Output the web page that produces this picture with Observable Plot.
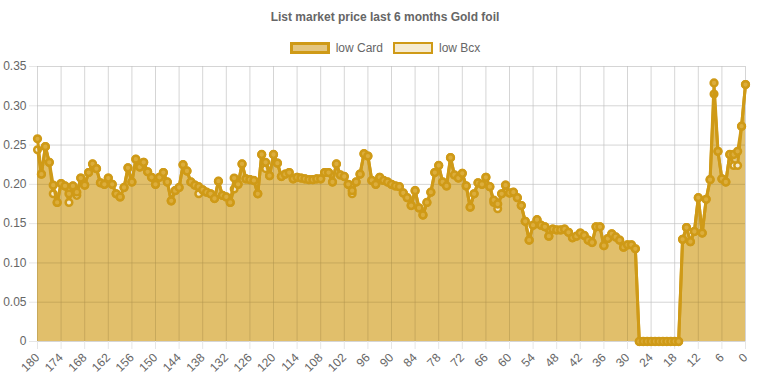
<!DOCTYPE html>
<html>
<head>
<meta charset="utf-8">
<script src="https://cdn.jsdelivr.net/npm/d3@7"></script>
<script src="https://cdn.jsdelivr.net/npm/@observablehq/plot@0.6"></script>
<style>
  html, body { margin: 0; padding: 0; background: #fff; }
  #wrap { width: 761px; height: 380px; position: relative; font-family: "Helvetica Neue", Helvetica, Arial, "Liberation Sans", sans-serif; color: #666; }
  #head { position: relative; width: 761px; height: 56px; }
  #title { position: absolute; top: 10px; left: 0; width: 770px; text-align: center; font-weight: bold; font-size: 12px; line-height: 14px; color: #666; }
  #legend { position: absolute; top: 42px; left: 0; width: 770px; display: flex; justify-content: center; align-items: center; font-size: 12px; line-height: 12px; }
  .item { display: flex; align-items: center; }
  .box { width: 40px; height: 12px; box-sizing: border-box; margin-right: 6px; }
  .item + .item { margin-left: 10px; }
</style>
</head>
<body>
<div id="wrap">
  <div id="head">
    <div id="title"></div>
    <div id="legend"></div>
  </div>
  <div id="chart"></div>
</div>
<script>
const title = "List market price last 6 months Gold foil";
const seriesNames = ["low Card", "low Bcx"];
const xTicks = [180,174,168,162,156,150,144,138,132,126,120,114,108,102,96,90,84,78,72,66,60,54,48,42,36,30,24,18,12,6,0];
const yTicks = [0,0.05,0.10,0.15,0.20,0.25,0.30,0.35];

// days before today, 180 -> 0
const days = d3.range(180, -1, -1);

const lowCard = [
 0.258,0.213,0.248,0.228,0.199,0.177,0.201,0.198,0.188,0.198,
 0.190,0.208,0.199,0.215,0.226,0.220,0.202,0.200,0.208,0.200,
 0.188,0.184,0.196,0.221,0.203,0.232,0.222,0.228,0.216,0.209,
 0.200,0.209,0.215,0.203,0.179,0.192,0.196,0.225,0.217,0.203,
 0.199,0.197,0.193,0.190,0.188,0.182,0.204,0.186,0.184,0.177,
 0.208,0.200,0.226,0.207,0.206,0.205,0.188,0.238,0.228,0.211,
 0.238,0.227,0.210,0.213,0.215,0.207,0.209,0.208,0.207,0.206,
 0.206,0.207,0.207,0.215,0.215,0.203,0.226,0.212,0.210,0.200,
 0.192,0.203,0.213,0.239,0.236,0.205,0.200,0.209,0.205,0.203,
 0.200,0.198,0.197,0.189,0.183,0.173,0.192,0.170,0.161,0.177,
 0.190,0.215,0.224,0.203,0.198,0.234,0.212,0.208,0.214,0.198,
 0.171,0.188,0.202,0.200,0.209,0.197,0.180,0.175,0.188,0.199,
 0.189,0.190,0.183,0.173,0.153,0.129,0.148,0.155,0.148,0.146,
 0.134,0.143,0.142,0.142,0.143,0.139,0.132,0.134,0.138,0.135,
 0.129,0.126,0.146,0.146,0.122,0.131,0.137,0.133,0.129,0.120,
 0.123,0.123,0.118,0,0,0,0,0,0,0,
 0,0,0,0,0.130,0.145,0.127,0.140,0.183,0.138,
 0.181,0.206,0.329,0.242,0.207,0.203,0.238,0.238,0.242,0.274,
 0.327
];

const lowBcx = [
 0.244,0.213,0.248,0.228,0.188,0.177,0.201,0.198,0.177,0.198,
 0.186,0.208,0.199,0.215,0.226,0.220,0.202,0.200,0.208,0.200,
 0.188,0.184,0.196,0.221,0.203,0.232,0.222,0.228,0.216,0.209,
 0.200,0.209,0.215,0.203,0.179,0.192,0.196,0.225,0.217,0.203,
 0.199,0.188,0.193,0.190,0.188,0.182,0.204,0.186,0.184,0.177,
 0.194,0.200,0.226,0.207,0.206,0.205,0.188,0.238,0.220,0.211,
 0.238,0.227,0.210,0.213,0.215,0.207,0.209,0.208,0.207,0.206,
 0.206,0.207,0.207,0.215,0.215,0.203,0.226,0.212,0.210,0.200,
 0.188,0.203,0.213,0.239,0.236,0.205,0.200,0.209,0.205,0.203,
 0.200,0.198,0.197,0.189,0.183,0.173,0.192,0.170,0.161,0.177,
 0.190,0.215,0.224,0.203,0.198,0.234,0.212,0.208,0.214,0.198,
 0.171,0.188,0.202,0.200,0.209,0.197,0.177,0.169,0.188,0.199,
 0.189,0.190,0.183,0.173,0.153,0.129,0.148,0.155,0.148,0.146,
 0.134,0.143,0.142,0.142,0.143,0.139,0.132,0.134,0.138,0.135,
 0.129,0.126,0.146,0.146,0.122,0.131,0.137,0.133,0.129,0.120,
 0.123,0.123,0.118,0,0,0,0,0,0,0,
 0,0,0,0,0.130,0.145,0.127,0.140,0.183,0.138,
 0.181,0.206,0.315,0.242,0.207,0.203,0.238,0.224,0.224,0.274,
 0.327
];

const gold = "#cf9a17";
const cardFill = "#e4c680";
const bcxFill = "#f5ebd1";

const card = days.map((d, i) => ({day: d, v: lowCard[i]}));
const bcx = days.map((d, i) => ({day: d, v: lowBcx[i]}));

document.getElementById("title").textContent = title;
const legend = document.getElementById("legend");
[[seriesNames[0], cardFill, 3], [seriesNames[1], bcxFill, 2]].forEach(([name, fill, bw]) => {
  const it = document.createElement("div"); it.className = "item";
  const b = document.createElement("div"); b.className = "box";
  b.style.background = fill; b.style.border = `${bw}px solid ${gold}`;
  const t = document.createElement("span"); t.textContent = name;
  it.appendChild(b); it.appendChild(t); legend.appendChild(it);
});

const gridColor = "#e6e6e6";
const plot = Plot.plot({
  width: 761,
  height: 324,
  marginTop: 10,
  marginBottom: 39,
  marginLeft: 37,
  marginRight: 16,
  style: {fontFamily: '"Helvetica Neue", Helvetica, Arial, "Liberation Sans", sans-serif', fontSize: "12px", color: "#666", background: "#fff"},
  x: {domain: [180, 0], label: null},
  y: {domain: [0, 0.35], label: null},
  marks: [
    Plot.gridX(xTicks, {stroke: gridColor, strokeOpacity: 1}),
    Plot.gridY(yTicks, {stroke: gridColor, strokeOpacity: 1}),
    Plot.areaY(bcx, {x: "day", y: "v", fill: gold, fillOpacity: 0.2}),
    Plot.areaY(card, {x: "day", y: "v", fill: gold, fillOpacity: 0.55}),
    Plot.gridX(xTicks, {stroke: "#000", strokeOpacity: 0.07}),
    Plot.gridY(yTicks, {stroke: "#000", strokeOpacity: 0.07}),
    Plot.axisY({ticks: yTicks, tickSize: 8, tickPadding: 3, stroke: gridColor, fill: "#666", fontSize: 12, label: null,
      tickFormat: d => d === 0 ? "0" : d.toFixed(2)}),
    Plot.axisX({ticks: xTicks, tickSize: 8, tickPadding: 6, tickRotate: -45, stroke: gridColor, fill: "#666", fontSize: 12, label: null,
      tickFormat: d => String(d)}),
    Plot.lineY(bcx, {x: "day", y: "v", stroke: gold, strokeWidth: 3}),
    Plot.dot(bcx, {x: "day", y: "v", r: 3.3, fill: bcxFill, stroke: gold, strokeWidth: 2.5}),
    Plot.lineY(card, {x: "day", y: "v", stroke: gold, strokeWidth: 3}),
    Plot.dot(card, {x: "day", y: "v", r: 3.4, fill: "#dcad3c", stroke: gold, strokeWidth: 2.5})
  ]
});
document.getElementById("chart").appendChild(plot);
</script>
</body>
</html>
